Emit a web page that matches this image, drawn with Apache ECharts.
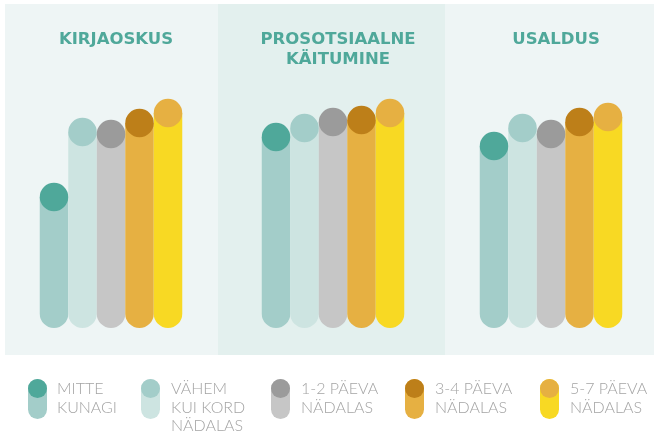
<!DOCTYPE html>
<html>
<head>
<meta charset="utf-8">
<script src="https://cdn.jsdelivr.net/npm/echarts@6/dist/echarts.min.js"></script>
<style>
html,body{margin:0;padding:0;background:#fff;}
#c{width:654px;height:436px;}
</style>
</head>
<body>
<div id="c"></div>
<script>
// ---- data ----
const categories = ['MITTE KUNAGI', 'VÄHEM KUI KORD NÄDALAS', '1-2 PÄEVA NÄDALAS', '3-4 PÄEVA NÄDALAS', '5-7 PÄEVA NÄDALAS'];
const legendLines = [['MITTE', 'KUNAGI'], ['VÄHEM', 'KUI KORD', 'NÄDALAS'], ['1-2 PÄEVA', 'NÄDALAS'], ['3-4 PÄEVA', 'NÄDALAS'], ['5-7 PÄEVA', 'NÄDALAS']];
const panelTitles = ['KIRJAOSKUS', 'PROSOTSIAALNE\nKÄITUMINE', 'USALDUS'];
const kirjaoskus = [131, 196, 194, 205, 215];
const prosotsiaalne = [191, 200, 206, 208, 215];
const usaldus = [182, 200, 194, 206, 211];
const panelValues = [kirjaoskus, prosotsiaalne, usaldus];

// ---- styles ----
const barColors = ['#a3cdc9', '#cde4e1', '#c6c6c6', '#e6b042', '#f8d923'];
const dotColors = ['#4fa89a', '#a3cdc9', '#9b9b9b', '#bd7f19', '#e6b042'];
const panelRects = [[5, 218, '#eef5f5'], [218, 445, '#e3f0ee'], [445, 654, '#eef5f5']];
const panelCenters = [111, 333, 551];
const bandW = 28.5;
const legendIconX = [28, 141, 271, 405, 540];
const legendTextX = [57, 171, 301, 435, 570];

const chart = echarts.init(document.getElementById('c'), null, {renderer: 'canvas'});

const grids = [], xAxes = [], yAxes = [], series = [], titles = [];
panelValues.forEach((vals, p) => {
  grids.push({left: panelCenters[p] - bandW * 2.5, width: bandW * 5, top: 28, bottom: 108, containLabel: false});
  xAxes.push({type: 'category', gridIndex: p, data: categories, show: false, boundaryGap: true});
  yAxes.push({type: 'value', gridIndex: p, min: 0, max: 300, show: false});
  series.push({
    type: 'bar', xAxisIndex: p, yAxisIndex: p, barWidth: '100%', barCategoryGap: 0,
    z: 2, silent: true,
    data: vals.map((v, i) => ({value: v, itemStyle: {color: barColors[i], borderRadius: [0, 0, 14.25, 14.25]}}))
  });
  series.push({
    type: 'scatter', xAxisIndex: p, yAxisIndex: p, symbol: 'circle', symbolSize: 28.5,
    z: 3, silent: true,
    data: vals.map((v, i) => ({value: [i, v], itemStyle: {color: dotColors[i], opacity: 1}}))
  });
  titles.push({
    text: panelTitles[p], left: panelCenters[p], top: 25, textAlign: 'center',
    textStyle: {color: '#4fa89a', fontFamily: 'DejaVu Sans', fontWeight: 'bold', fontSize: 16.5, lineHeight: 20}
  });
});

const graphics = [];
panelRects.forEach(r => {
  graphics.push({type: 'rect', z: -10, silent: true, shape: {x: r[0], y: 4, width: r[1] - r[0], height: 351}, style: {fill: r[2]}});
});
legendLines.forEach((lines, i) => {
  graphics.push({type: 'rect', silent: true, shape: {x: legendIconX[i], y: 379, width: 19, height: 40, r: 9.5}, style: {fill: barColors[i]}});
  graphics.push({type: 'circle', silent: true, shape: {cx: legendIconX[i] + 9.5, cy: 388.5, r: 9.5}, style: {fill: dotColors[i]}});
  graphics.push({type: 'text', silent: true, x: legendTextX[i], y: 380,
    style: {text: lines.join('\n'), fill: '#a4a4a4', font: '300 16px Lato', lineHeight: 18.5, textVerticalAlign: 'top'}});
});

chart.setOption({
  backgroundColor: '#ffffff',
  animation: false,
  title: titles,
  grid: grids,
  xAxis: xAxes,
  yAxis: yAxes,
  series: series,
  graphic: graphics
});
</script>
</body>
</html>
